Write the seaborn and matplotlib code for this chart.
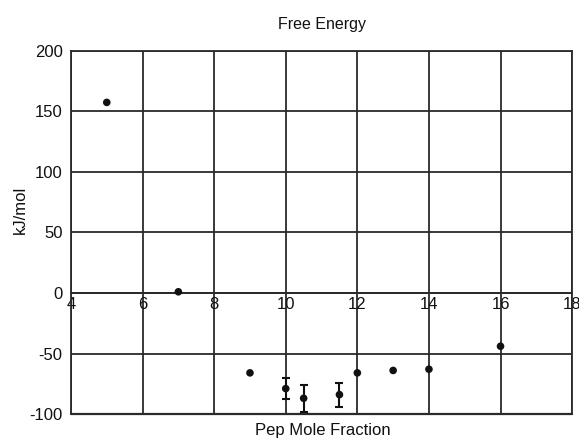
import matplotlib
matplotlib.use("Agg")
import matplotlib.pyplot as plt
import seaborn as sns
import pandas as pd

# Free energy vs peptide mole fraction
mole_fraction = [5, 7, 9, 10, 10.5, 11.5, 12, 13, 14, 16]
energy_kj = [157.5, 1, -66, -79, -87, -84, -66, -64, -63, -44]
energy_err = [0, 0, 0, 9, 11, 10, 0, 0, 0, 0]

x_ticks = [4, 6, 8, 10, 12, 14, 16, 18]
y_ticks = [-100, -50, 0, 50, 100, 150, 200]

df = pd.DataFrame({"x": mole_fraction, "y": energy_kj, "err": energy_err})

sns.set_style("white")
plt.rcParams["font.family"] = ["Liberation Sans", "DejaVu Sans"]

line_col = "#2a2a2a"

fig = plt.figure(figsize=(5.79, 4.41), dpi=100)
ax = fig.add_axes([0.1226, 0.0612, 0.8655, 0.8232])

ax.set_xlim(4, 18)
ax.set_ylim(-100, 200)
ax.set_xticks(x_ticks)
ax.set_yticks(y_ticks)
ax.set_xticklabels([str(t) for t in x_ticks])
ax.set_yticklabels([str(t) for t in y_ticks])

ax.grid(True, color=line_col, linewidth=1.3)
ax.set_axisbelow(True)

for s in ax.spines.values():
    s.set_color(line_col)
    s.set_linewidth(1.3)
ax.spines["bottom"].set_position(("data", 0))
ax.axhline(-100, color=line_col, linewidth=1.6, clip_on=False, zorder=1)

ax.tick_params(axis="both", length=0, labelsize=12, colors="#111111")
ax.tick_params(axis="x", pad=3)
ax.tick_params(axis="y", pad=6)

# error bars for the replicated points
err = df[df["err"] > 0]
ax.errorbar(err["x"], err["y"], yerr=err["err"], fmt="none",
            ecolor="#111111", elinewidth=1.5, capsize=3, capthick=1.5, zorder=3)

sns.scatterplot(data=df, x="x", y="y", ax=ax, color="#111111", s=30,
                edgecolor="none", zorder=4, legend=False)

ax.set_xlabel("")
ax.set_ylabel("")
fig.text(0.5553, 0.944, "Free Energy", ha="center", va="center", fontsize=11.5, color="#111111")
fig.text(0.035, 0.525, "kJ/mol", ha="center", va="center", rotation=90, fontsize=12, color="#111111")
fig.text(0.558, 0.024, "Pep Mole Fraction", ha="center", va="center", fontsize=12, color="#111111")

fig.savefig("out.png", dpi=100)
